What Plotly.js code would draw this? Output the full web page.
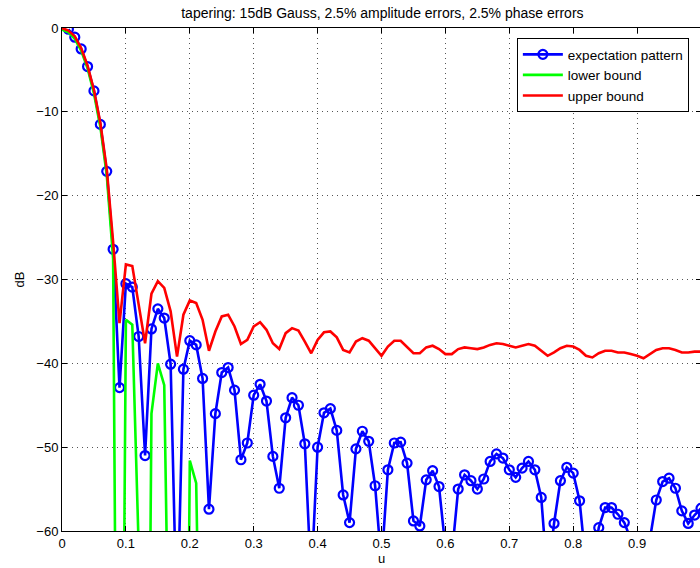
<!DOCTYPE html>
<html>
<head>
<meta charset="utf-8">
<script src="https://cdn.plot.ly/plotly-3.0.1.min.js"></script>
<style>html,body{margin:0;padding:0;overflow:hidden;background:#fff;}</style>
</head>
<body>
<div id="chart"></div>
<script>
const u = [0.00,0.01,0.02,0.03,0.04,0.05,0.06,0.07,0.08,0.09,
  0.10,0.11,0.12,0.13,0.14,0.15,0.16,0.17,0.18,0.19,
  0.20,0.21,0.22,0.23,0.24,0.25,0.26,0.27,0.28,0.29,
  0.30,0.31,0.32,0.33,0.34,0.35,0.36,0.37,0.38,0.39,
  0.40,0.41,0.42,0.43,0.44,0.45,0.46,0.47,0.48,0.49,
  0.50,0.51,0.52,0.53,0.54,0.55,0.56,0.57,0.58,0.59,
  0.60,0.61,0.62,0.63,0.64,0.65,0.66,0.67,0.68,0.69,
  0.70,0.71,0.72,0.73,0.74,0.75,0.76,0.77,0.78,0.79,
  0.80,0.81,0.82,0.83,0.84,0.85,0.86,0.87,0.88,0.89,
  0.90,0.91,0.92,0.93,0.94,0.95,0.96,0.97,0.98,0.99,1.00];

const expectation = [null,-0.15,-1.1,-2.5,-4.6,-7.5,-11.5,-17.1,-26.4,-42.9,
  -30.5,-30.9,-36.8,-51.0,-35.9,-33.5,-34.6,-40.1,-72,-40.7,
  -37.3,-37.8,-41.8,-57.4,-46.0,-41.1,-40.5,-43.2,-51.5,-49.5,
  -43.8,-42.5,-44.5,-51.1,-54.9,-46.5,-44.1,-45.0,-49.6,-66,
  -50.0,-45.9,-45.4,-48.0,-55.7,-59.0,-50.2,-48.1,-49.3,-54.6,
  -64,-52.7,-49.5,-49.4,-51.9,-58.8,-59.4,-53.9,-52.8,-54.7,
  -62,-63,-55.0,-53.3,-54.0,-55.0,-53.8,-51.7,-50.8,-51.3,
  -52.7,-53.6,-52.5,-51.7,-52.7,-56.0,-66,-59.1,-54.0,-52.4,
  -53.1,-56.4,-64,-65,-59.6,-57.2,-57.2,-58.0,-59.0,-61,
  -65,-65,-61,-56.3,-54.1,-53.7,-54.9,-57.6,-59.1,-58.1,-57.3];

const lowerBound = [-0.2,-0.5,-1.3,-2.7,-4.8,-7.8,-11.8,-17.5,-27.5,-140,
  -34.8,-35.4,-62,-140,-46.0,-40.0,-42.6,-140,-140,-140,
  -51.6,-54.3,-140,-140,-140,-140,-140,-140,-140,-140,
  -140,-140,-140,-140,-140,-140,-140,-140,-140,-140,
  -140,-140,-140,-140,-140,-140,-140,-140,-140,-140,
  -140,-140,-140,-140,-140,-140,-140,-140,-140,-140,
  -140,-140,-140,-140,-140,-140,-140,-140,-140,-140,
  -140,-140,-140,-140,-140,-140,-140,-140,-140,-140,
  -140,-140,-140,-140,-140,-140,-140,-140,-140,-140,
  -140,-140,-140,-140,-140,-140,-140,-140,-140,-140,-140];

const upperBound = [0.0,-0.3,-1.0,-2.4,-4.5,-7.4,-11.3,-16.8,-25.5,-35.2,
  -28.2,-28.4,-33.0,-37.6,-31.7,-30.2,-31.0,-33.8,-39.2,-34.2,
  -32.5,-32.8,-34.8,-38.5,-36.2,-34.4,-34.2,-35.6,-37.7,-37.2,
  -35.6,-35.1,-36.0,-37.6,-38.3,-36.4,-35.8,-36.1,-37.4,-38.8,
  -37.2,-36.3,-36.2,-36.9,-38.4,-38.7,-37.4,-37.0,-37.3,-38.2,
  -39.1,-38.0,-37.3,-37.3,-38.0,-38.8,-38.8,-38.1,-37.9,-38.3,
  -38.9,-38.9,-38.3,-38.1,-38.2,-38.3,-38.1,-37.8,-37.6,-37.7,
  -37.9,-38.1,-37.9,-37.7,-37.9,-38.5,-39.1,-38.7,-38.2,-37.9,
  -38.0,-38.4,-39.1,-39.3,-38.8,-38.5,-38.5,-38.7,-38.7,-38.9,
  -39.1,-39.4,-38.9,-38.4,-38.2,-38.2,-38.4,-38.7,-38.7,-38.6,-38.6];

const seriesNames = ['expectation pattern','lower bound','upper bound'];
const titleText = 'tapering: 15dB Gauss, 2.5% amplitude errors, 2.5% phase errors';

const FONT = 'Liberation Sans, Arial, Helvetica, sans-serif';

const traces = [
  {x: u, y: expectation, name: seriesNames[0], type: 'scatter', mode: 'lines+markers',
   line: {color: '#0000ff', width: 2.6},
   marker: {symbol: 'circle-open', size: 9, color: '#0000ff', line: {width: 2.2, color: '#0000ff'}},
   cliponaxis: true},
  {x: u, y: lowerBound, name: seriesNames[1], type: 'scatter', mode: 'lines',
   line: {color: '#00ff00', width: 2.6}, cliponaxis: true},
  {x: u, y: upperBound, name: seriesNames[2], type: 'scatter', mode: 'lines',
   line: {color: '#ff0000', width: 2.6}, cliponaxis: true}
];

const axisCommon = {
  showline: true, linecolor: '#000', linewidth: 1, mirror: 'ticks',
  ticks: 'inside', ticklen: 5, tickwidth: 1, tickcolor: '#000',
  showgrid: true, gridcolor: '#555', gridwidth: 1, griddash: '1px,4px',
  zeroline: false, tickfont: {family: FONT, size: 13, color: '#000'}
};

const layout = {
  width: 701, height: 568,
  margin: {l: 62, r: 0, t: 28, b: 37},
  paper_bgcolor: '#fff', plot_bgcolor: '#fff',
  font: {family: FONT, color: '#000'},
  title: {text: titleText, font: {family: FONT, size: 14, color: '#000'}, x: 0.5455, xanchor: 'center', y: 0.985, yanchor: 'top'},
  xaxis: Object.assign({}, axisCommon, {range: [0, 1], dtick: 0.1, tick0: 0,
    title: {text: 'u', font: {family: FONT, size: 13, color: '#000'}, standoff: 2}}),
  yaxis: Object.assign({}, axisCommon, {range: [-60, 0], dtick: 10, tick0: 0,
    title: {text: 'dB', font: {family: FONT, size: 13, color: '#000'}, standoff: 8}}),
  showlegend: true,
  legend: {x: 0.981, y: 0.980, xanchor: 'right', yanchor: 'top',
    bgcolor: '#fff', bordercolor: '#000', borderwidth: 1,
    font: {family: FONT, size: 13.5, color: '#000'}, itemwidth: 40, tracegroupgap: 0}
};

Plotly.newPlot('chart', traces, layout, {staticPlot: true, displayModeBar: false});
</script>
</body>
</html>
